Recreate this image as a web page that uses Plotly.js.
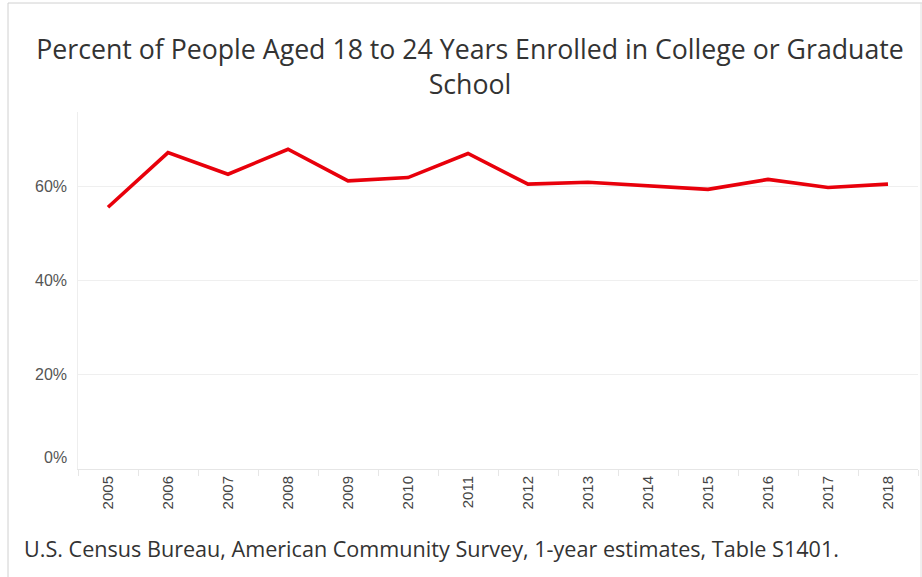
<!DOCTYPE html>
<html>
<head>
<meta charset="utf-8">
<script src="https://cdn.plot.ly/plotly-3.0.1.min.js"></script>
<style>html,body{margin:0;padding:0;background:#fff;}#chart{width:922px;height:577px;}</style>
</head>
<body>
<div id="chart"></div>
<script>
// Data
const years = ["2005","2006","2007","2008","2009","2010","2011","2012","2013","2014","2015","2016","2017","2018"];
const enrolledPct = [55.5, 67.1, 62.5, 67.8, 61.1, 61.8, 66.9, 60.4, 60.8, 60.0, 59.3, 61.4, 59.7, 60.4];
const yTickValues = [0, 20, 40, 60];
const yTickLabels = ["0%", "20%", "40%", "60%"];
const chartTitle = "Percent of People Aged 18 to 24 Years Enrolled in College or Graduate<br>School";
const sourceNote = "U.S. Census Bureau, American Community Survey, 1-year estimates, Table S1401.";

// Layout geometry (px)
const W = 922, H = 577, L = 78, R = 4, T = 112, B = 108;
const pw = W - L - R, ph = H - T - B;
const px2x = p => (p - L) / pw;
const py2y = p => (H - B - p) / ph;

const trace = {
  type: "scatter",
  mode: "lines",
  x: years,
  y: enrolledPct,
  line: {color: "#e8000b", width: 3.6},
  hoverinfo: "x+y"
};

const yAnnotations = yTickValues.map((v, i) => ({
  xref: "paper", yref: "y",
  x: 0, y: v,
  text: yTickLabels[i],
  showarrow: false,
  xanchor: "right", yanchor: "middle",
  xshift: -9,
  yshift: v === 0 ? 12 : 0,
  font: {family: "Liberation Sans, Arial, sans-serif", size: 16, color: "#555"}
}));

const layout = {
  width: W, height: H,
  margin: {l: L, r: R, t: T, b: B},
  paper_bgcolor: "#fff",
  plot_bgcolor: "#fff",
  showlegend: false,
  title: {
    text: chartTitle,
    font: {family: "Open Sans, sans-serif", size: 26.7, color: "#333"},
    x: 470 / W, xanchor: "center",
    xref: "container",
    y: 1 - 59 / H, yanchor: "top",
    yref: "container"
  },
  xaxis: {
    type: "category",
    range: [-0.5, years.length - 0.5],
    tickangle: -90,
    ticks: "outside",
    tickson: "boundaries",
    ticklen: 6,
    tickcolor: "#e6e6e6",
    tickfont: {family: "Liberation Sans, Arial, sans-serif", size: 15, color: "#444"},
    showgrid: false,
    showline: true,
    linecolor: "#e6e6e6",
    linewidth: 1,
    zeroline: false,
    fixedrange: true
  },
  yaxis: {
    range: [0, 75.7],
    tickvals: yTickValues,
    showticklabels: false,
    showgrid: true,
    gridcolor: "#efefef",
    gridwidth: 1,
    showline: true,
    linecolor: "#eeeeee",
    linewidth: 1,
    zeroline: false,
    ticks: "",
    fixedrange: true
  },
  annotations: yAnnotations.concat([{
    xref: "paper", yref: "paper",
    x: px2x(22), y: py2y(548),
    xanchor: "left", yanchor: "middle",
    text: sourceNote,
    showarrow: false,
    font: {family: "Open Sans, sans-serif", size: 21.6, color: "#333"}
  }]),
  shapes: [
    {type: "line", xref: "paper", yref: "paper", x0: px2x(8), x1: px2x(922), y0: py2y(3), y1: py2y(3), line: {color: "#d0d0d0", width: 1}},
    {type: "line", xref: "paper", yref: "paper", x0: px2x(8), x1: px2x(8), y0: py2y(3), y1: py2y(577), line: {color: "#d0d0d0", width: 1}},
    {type: "line", xref: "paper", yref: "paper", x0: px2x(921), x1: px2x(921), y0: py2y(3), y1: py2y(577), line: {color: "#e0e0e0", width: 1}}
  ]
};

Plotly.newPlot("chart", [trace], layout, {displayModeBar: false, staticPlot: true});
</script>
</body>
</html>
